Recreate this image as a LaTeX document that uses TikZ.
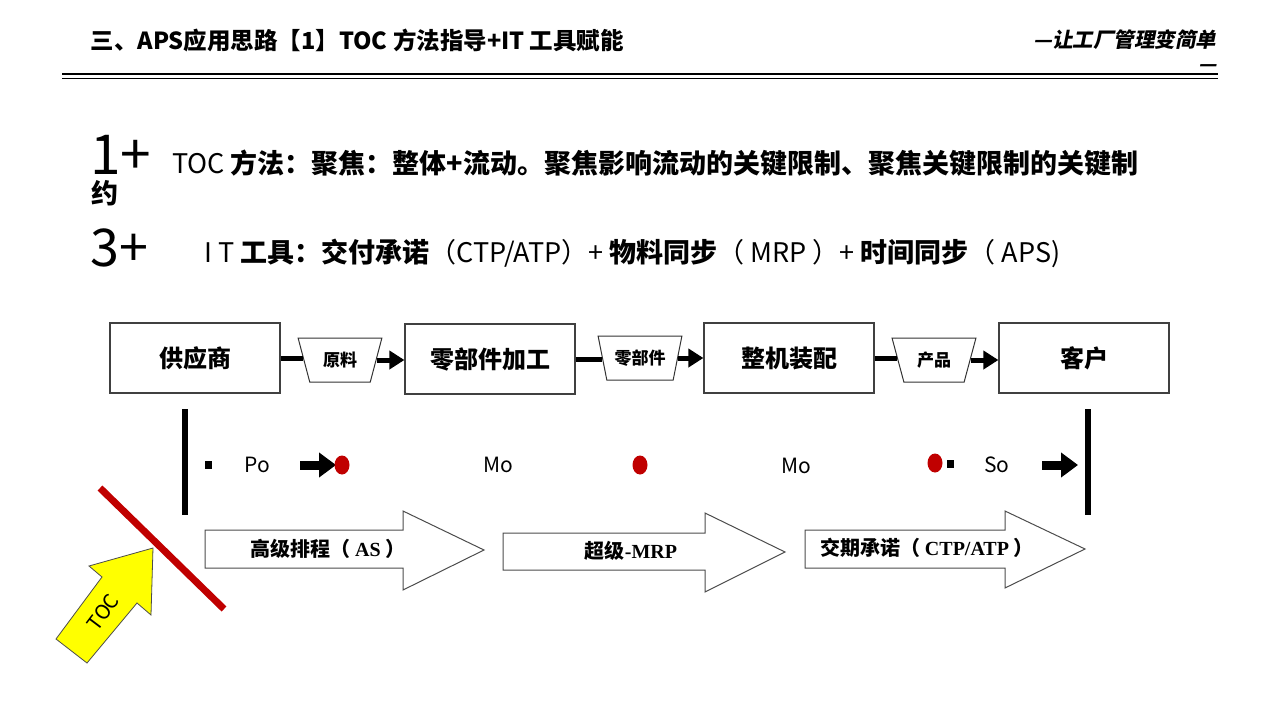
\documentclass[tikz,border=0pt]{standalone}
\usepackage{fontspec}
\setmainfont{Noto Sans CJK SC}
\newfontfamily\slcjk{Noto Sans CJK SC}[FakeSlant=0.2]
\newfontfamily\tnr{Liberation Serif}
\usetikzlibrary{arrows.meta,shapes.geometric}
\definecolor{dred}{HTML}{C00000}
\definecolor{yel}{HTML}{FFFF00}
\tikzset{
  flowbox/.style={draw=black!75, line width=1.2pt, minimum width=170pt, minimum height=70pt, font=\fontsize{24}{28}\selectfont\bfseries},
  trap/.style={draw=black!80, line width=1pt, trapezium, shape border rotate=180, trapezium stretches=true, minimum width=84pt, minimum height=44pt, trapezium angle=68, inner sep=0pt, font=\fontsize{17}{20}\selectfont\bfseries},
  flowline/.style={line width=5pt},
  flowarrow/.style={line width=5pt, -{Triangle[length=15pt,width=18pt]}},
  blockarrow/.style={line width=9pt, -{Triangle[length=17pt,width=24pt]}},
  bar/.style={line width=6pt},
  dot/.style={fill=dred},
  small/.style={font=\fontsize{21}{24}\selectfont},
  bigarrow/.style={draw=black!70, line width=1pt, fill=white},
  arrowtext/.style={font=\fontsize{20}{24}\selectfont\bfseries},
}
\begin{document}
\begin{tikzpicture}[x=1pt,y=-1pt]
\useasboundingbox (0,0) rectangle (1280,720);
% header
\node[anchor=west, font=\fontsize{23.5}{26}\selectfont\bfseries] (title) at (87,40) {三、APS应用思路【1】TOC 方法指导+IT 工具赋能};
\node[anchor=east, font=\fontsize{20.5}{24}\slcjk\bfseries] (slogan) at (1220,40) {—让工厂管理变简单};
\node[anchor=east, font=\fontsize{20}{24}\slcjk\bfseries] (slogan2) at (1220,68) {—};
\draw[line width=2.5pt] (62,74) -- (1218,74);
\draw[line width=1pt] (62,78.5) -- (1218,78.5);
% lines of text
\node[anchor=west, font=\fontsize{55}{60}\selectfont, inner sep=0pt] (one) at (90,155) {1+};
\node[anchor=west, font=\fontsize{27}{30}\selectfont\bfseries, inner sep=0pt] (l1) at (172,163) {\mdseries TOC \bfseries 方法：聚焦：整体+流动。聚焦影响流动的关键限制、聚焦关键限制的关键制};
\node[anchor=west, font=\fontsize{27}{30}\selectfont\bfseries, inner sep=0pt] (l1b) at (91,193) {约};
\node[anchor=west, font=\fontsize{52}{60}\selectfont, inner sep=0pt] (three) at (90,248) {3+};
\node[anchor=west, font=\fontsize{27}{30}\selectfont\bfseries, inner sep=0pt] (l2) at (204,253) {\mdseries I T \bfseries 工具：交付承诺\mdseries（CTP/ATP）+ \bfseries 物料同步\mdseries（ MRP ）+ \bfseries 时间同步\mdseries（ APS)};
% flow row
\node[flowbox] (sup) at (195,358) {供应商};
\node[flowbox] (zero) at (490,359) {零部件加工};
\node[flowbox] (asm) at (789,358) {整机装配};
\node[flowbox] (cust) at (1084,358) {客户};
\node[trap] (t1) at (340,360) {原料};
\node[trap] (t2) at (640,358) {零部件};
\node[trap] (t3) at (934,360) {产品};
\draw[flowline] (sup.east) -- (sup.east -| t1.west);
\draw[flowarrow] (t1.east) -- (t1.east -| zero.west);
\draw[flowline] (zero.east) -- (zero.east -| t2.west);
\draw[flowarrow] (t2.east) -- (t2.east -| asm.west);
\draw[flowline] (asm.east) -- (asm.east -| t3.west);
\draw[flowarrow] (t3.east) -- (t3.east -| cust.west);
% bars
\coordinate (b1t) at (185,409); \coordinate (b1b) at (185,515);
\coordinate (b2t) at (1088,409); \coordinate (b2b) at (1088,515);
\draw[bar] (b1t) -- (b1b);
\draw[bar] (b2t) -- (b2b);
% markers row
\fill (205,461) rectangle (212,469);
\fill (947,460) rectangle (954,468);
\node[small] (po) at (257,465) {Po};
\node[small] (mo1) at (498,465) {Mo};
\node[small] (mo2) at (796,466) {Mo};
\node[small] (so) at (997,465) {So};
\coordinate (a1s) at (300,465); \coordinate (a1e) at (336,465);
\coordinate (a2s) at (1042,465); \coordinate (a2e) at (1078,465);
\draw[blockarrow] (a1s) -- (a1e);
\draw[blockarrow] (a2s) -- (a2e);
\fill[dot] (342,465) ellipse (7.5 and 9.5);
\fill[dot] (640,465) ellipse (7.5 and 9.5);
\fill[dot] (935,463) ellipse (7.5 and 9.5);
% big arrows
\draw[bigarrow] (205,530) -- (403,530) -- (403,511) -- (484,550) -- (403,590) -- (403,568) -- (205,568) -- cycle;
\node[arrowtext] (as) at (328,549) {高级排程（ {\tnr AS} ）};
\draw[bigarrow] (503,533) -- (705,533) -- (705,513) -- (785,552) -- (705,592) -- (705,570) -- (503,570) -- cycle;
\node[arrowtext] (mrp) at (631,551) {超级{\tnr -MRP}};
\draw[bigarrow] (805,530) -- (1005,530) -- (1005,511) -- (1085,549) -- (1005,588) -- (1005,568) -- (805,568) -- cycle;
\node[arrowtext] (ctp) at (927,548) {交期承诺（ {\tnr CTP/ATP} ）};
% TOC
\draw[dred, line width=7pt] (100,488) -- (224,609);
\draw[fill=yel, draw=black!70, line width=0.8pt] (153,548) -- (151,615) -- (137,603) -- (87,663) -- (56,639) -- (102,577) -- (89,566) -- cycle;
\node[font=\fontsize{20}{24}\selectfont, rotate=53, inner sep=0pt] (toc) at (103,612) {TOC};
\end{tikzpicture}
\end{document}
